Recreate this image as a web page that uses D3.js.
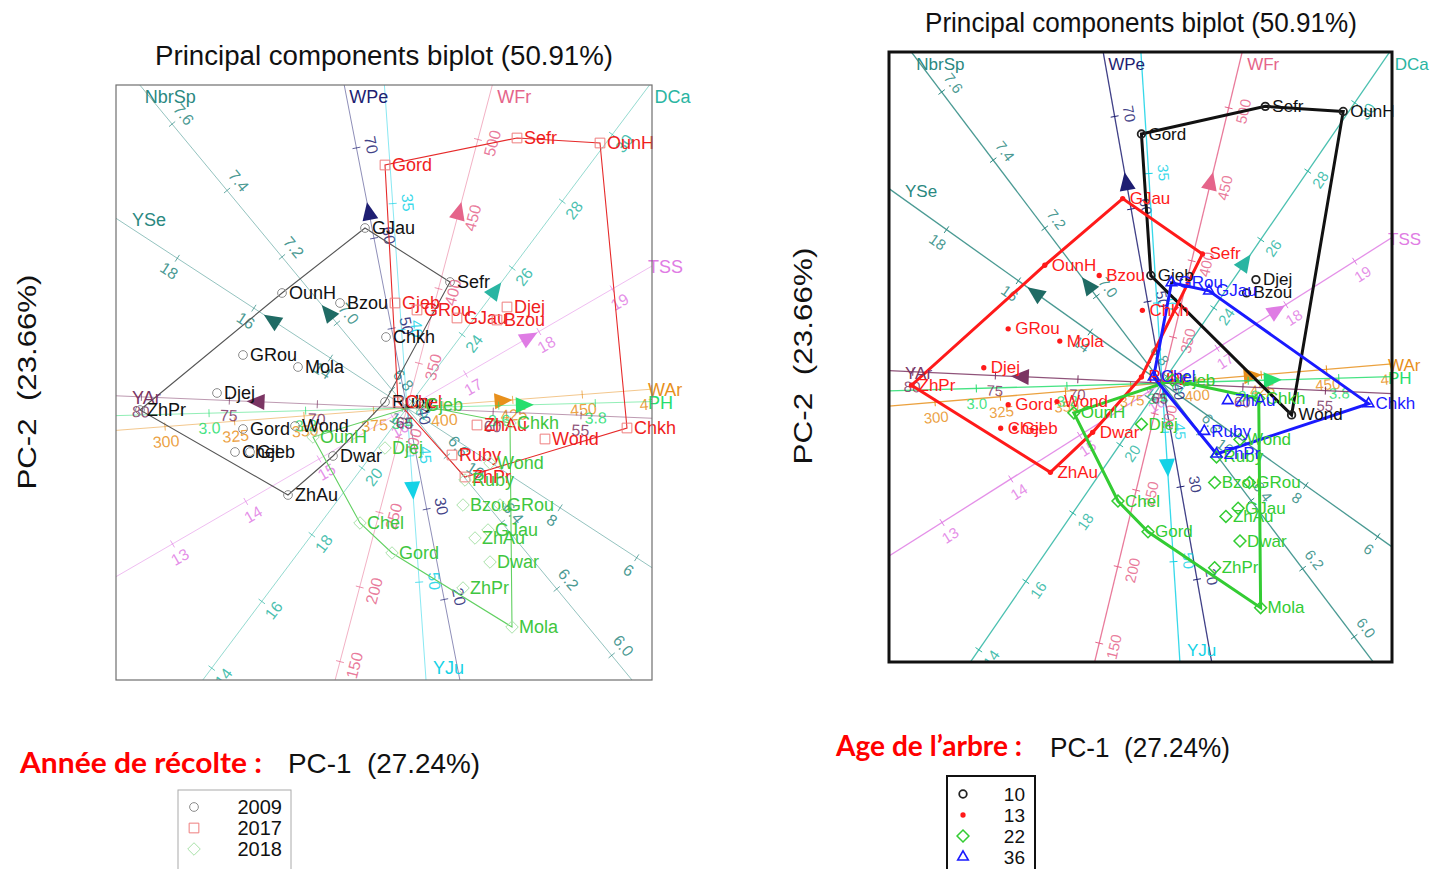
<!DOCTYPE html>
<html>
<head>
<meta charset="utf-8">
<script src="https://cdn.jsdelivr.net/npm/d3@7"></script>
<style>
  body { margin: 0; background: #fff; }
  svg { display: block; }
  text { font-family: "Liberation Sans", Arial, sans-serif; }
</style>
</head>
<body>
<svg id="chart" width="1439" height="869"></svg>
<script>
// ---------------- DATA ----------------
const pc1Limits = [-2.91, 2.45];
const pc2Limits = [-2.72, 3.23];

// biplot calibrated variable axes
const varNames  = ["NbrSp", "YSe", "WPe", "YJu", "WFr", "DCa", "TSS", "WAr", "PH", "YAr"];
const varAngle  = [129.6, 146.9, 101.0, -86.0, 75.2, 53.1, 30.1, 4.4, 1.5, 177.6];   // direction of increase (deg)
const varCentre = [6.745, 12.0, 41.2, 43.1, 320, 21.8, 16.2, 387, 3.41, 64.9];       // value at the origin
const varUnit   = [4.31, 0.457, 0.092, 0.253, 0.01543, 0.417, 0.847, 0.0279, 4.83, 0.176]; // PC length per unit
const varTicks  = [
  [7.6, 7.4, 7.2, 7.0, 6.8, 6.6, 6.4, 6.2, 6.0],
  [18, 16, 14, 12, 10, 8, 6],
  [70, 60, 50, 40, 30, 20],
  [35, 40, 45, 50],
  [500, 450, 400, 350, 300, 250, 200, 150],
  [30, 28, 26, 24, 22, 20, 18, 16, 14],
  [19, 18, 17, 16, 15, 14, 13],
  [300, 325, 350, 375, 400, 425, 450, 475],
  [3.0, 3.2, 3.4, 3.6, 3.8],
  [80, 75, 70, 65, 60, 55]
];
const varDigits = [1, 0, 0, 0, 0, 0, 0, 0, 1, 0];
const varMarker = [7.03, 15.5, 62.8, 46.3, 451, 25.3, 17.85, 421, 3.65, 73.4];

// samples
const sampleNames = [
  "GJau","OunH","Bzou","Chkh","Sefr","GRou","Mola","Djej","ZhPr","Gord","Wond","Chel","Gjeb","Dwar","ZhAu","Ruby",
  "Gord","Sefr","OunH","Gjeb","GRou","GJau","Bzou","Djej","ZhAu","Wond","Chkh","Ruby","ZhPr","Chel",
  "OunH","Gjeb","Chkh","Wond","Ruby","Djej","Bzou","GRou","GJau","ZhAu","Dwar","ZhPr","Mola","Gord","Chel"
];
const sampleYear = [
  2009,2009,2009,2009,2009,2009,2009,2009,2009,2009,2009,2009,2009,2009,2009,2009,
  2017,2017,2017,2017,2017,2017,2017,2017,2017,2017,2017,2017,2017,2017,
  2018,2018,2018,2018,2018,2018,2018,2018,2018,2018,2018,2018,2018,2018,2018
];
const sampleAge = [
  13,13,13,13,13,13,13,13,13,13,13,13,13,13,13,13,
  10,10,10,10,36,36,10,10,36,10,36,36,36,36,
  22,22,22,22,22,22,22,22,22,22,22,22,22,22,22
];
const samplePC1 = [
  -0.42,-1.25,-0.67,-0.21, 0.43,-1.64,-1.09,-1.90,-2.67,-1.64,-1.12,-1.72,-1.57,-0.74,-1.19,-0.22,
  -0.22, 1.10, 1.93,-0.12, 0.10, 0.50, 0.90, 1.00, 0.70, 1.38, 2.20, 0.45, 0.58,-0.09,
  -0.94, 0.11, 1.03, 0.83, 0.58,-0.22, 0.56, 0.93, 0.81, 0.68, 0.83, 0.56, 1.05,-0.15,-0.47
];
const samplePC2 = [
   1.80, 1.15, 1.05, 0.71, 1.26, 0.53, 0.41, 0.15,-0.02,-0.21,-0.18,-0.44,-0.44,-0.48,-0.87, 0.06,
   2.43, 2.70, 2.65, 1.05, 0.98, 0.90, 0.88, 1.01,-0.17,-0.31,-0.20,-0.47,-0.69, 0.06,
  -0.29, 0.03,-0.15,-0.55,-0.72,-0.40,-0.97,-0.97,-1.22,-1.30,-1.54,-1.80,-2.19,-1.45,-1.15
];

const yearLevels = [2009, 2017, 2018];
const ageLevels  = [10, 13, 22, 36];

const titleText = "Principal components biplot (50.91%)";
const pc1Text = "PC-1  (27.24%)";
const pc2Text = "PC-2  (23.66%)";

// ---------------- STYLES ----------------
const varColour = ["#2a8880", "#2a8880", "#1e1e72", "#14d2e6", "#e5648a", "#2ab5a2", "#df7ce4", "#e8901c", "#26de6e", "#7b3563"];
const varMarkColour = ["#1f6b64", "#1f6b64", "#1e1e72", "#14d2e6", "#e5648a", "#2ab5a2", "#df7ce4", "#e8901c", "#26de6e", "#7b3563"];

const S = (a, b) => a || b;
const symCircle = d3.symbolCircle;
const symSquare = S(d3.symbolSquare2, d3.symbolSquare);
const symDiamond = S(d3.symbolDiamond2, d3.symbolDiamond);
const symTriangle = S(d3.symbolTriangle2, d3.symbolTriangle);

const yearStyle = {
  2009: {sym: symCircle, size: 60, stroke: "#8c8c8c", fill: "none", sw: 1, hull: "#555555", text: "#111111"},
  2017: {sym: symSquare, size: 120, stroke: "#ee7d7d", fill: "none", sw: 1, hull: "#e62a2a", text: "#f01d1d"},
  2018: {sym: symDiamond, size: 100, stroke: "#a9e2a9", fill: "none", sw: 1, hull: "#62d062", text: "#40c640"}
};
const ageStyle = {
  10: {sym: symCircle, size: 45, stroke: "#222222", fill: "none", sw: 1.8, hull: "#111111", text: "#111111"},
  13: {sym: symCircle, size: 22, stroke: "none", fill: "#ff1a1a", sw: 0, hull: "#ff1a1a", text: "#ff1a1a"},
  22: {sym: symDiamond, size: 90, stroke: "#33cc33", fill: "none", sw: 1.5, hull: "#33cc33", text: "#33cc33"},
  36: {sym: symTriangle, size: 80, stroke: "#1a1aff", fill: "none", sw: 1.6, hull: "#1a1aff", text: "#1a1aff"}
};

const svg = d3.select("#chart");

const panels = [
  {id: "L", box: {x0: 116, y0: 85, x1: 652, y1: 680}, key: sampleYear, levels: yearLevels, style: yearStyle,
   lineOp: 0.5, lineW: 1, hullW: 1.1, ptFont: 18, tickFont: 16, nameFont: 18, border: "#6f6f6f", borderW: 1.2,
   title: {x: 384, y: 65, len: 458}, ylab: {x: 36, y: 382, len: 215},
   lab: {text: "Année de récolte :", x: 20, y: 773, len: 242}, xlab: {x: 288, y: 773, len: 192},
   legend: {x: 178, y: 790, w: 113, h: 90, stroke: "#aaaaaa", sw: 1, sx: 194, tx: 282, y0: 807, dy: 21, font: 20}},
  {id: "R", box: {x0: 889, y0: 52, x1: 1392, y1: 662}, key: sampleAge, levels: ageLevels, style: ageStyle,
   lineOp: 0.85, lineW: 1.3, hullW: 3, ptFont: 17, tickFont: 15, nameFont: 17, border: "#111111", borderW: 3,
   title: {x: 1141, y: 32, len: 432}, ylab: {x: 812, y: 356, len: 217},
   lab: {text: "Age de l’arbre :", x: 836, y: 756, len: 186}, xlab: {x: 1050, y: 757, len: 180},
   legend: {x: 947, y: 776, w: 88, h: 100, stroke: "#111111", sw: 2, sx: 963, tx: 1025, y0: 794, dy: 21, font: 19}}
];

function drawPanel(p) {
  const b = p.box;
  const x = d3.scaleLinear().domain(pc1Limits).range([b.x0, b.x1]);
  const y = d3.scaleLinear().domain(pc2Limits).range([b.y1, b.y0]);
  const g = svg.append("g");
  const clipId = "clip" + p.id;
  g.append("clipPath").attr("id", clipId).append("rect")
    .attr("x", b.x0).attr("y", b.y0).attr("width", b.x1 - b.x0).attr("height", b.y1 - b.y0);
  const inner = g.append("g").attr("clip-path", `url(#${clipId})`);
  const labelLayer = g.append("g");

  const ox = x(0), oy = y(0);

  varNames.forEach((name, i) => {
    const a = varAngle[i] * Math.PI / 180;
    const ca = Math.cos(a), sa = Math.sin(a);
    const pt = v => { const s = (v - varCentre[i]) * varUnit[i]; return [x(s * ca), y(s * sa)]; };
    let dx = x(ca) - ox, dy = y(sa) - oy;
    const dl = Math.hypot(dx, dy); dx /= dl; dy /= dl;
    const col = varColour[i];
    inner.append("line")
      .attr("x1", x(-12 * ca)).attr("y1", y(-12 * sa))
      .attr("x2", x(12 * ca)).attr("y2", y(12 * sa))
      .attr("stroke", col).attr("stroke-opacity", p.lineOp).attr("stroke-width", p.lineW);
    let ang = Math.atan2(dy, dx) * 180 / Math.PI;
    let rot = ang; if (rot > 90) rot -= 180; if (rot <= -90) rot += 180;
    const steep = Math.abs(rot) > 45;
    let nx = -dy, ny = dx;
    if (steep ? nx < 0 : ny < 0) { nx = -nx; ny = -ny; }
    varTicks[i].forEach(v => {
      const [tx, ty] = pt(v);
      inner.append("line")
        .attr("x1", tx - nx * 4).attr("y1", ty - ny * 4)
        .attr("x2", tx + nx * 4).attr("y2", ty + ny * 4)
        .attr("stroke", col).attr("stroke-opacity", Math.min(1, p.lineOp + 0.2)).attr("stroke-width", 1);
      const lx = tx + nx * 15, ly = ty + ny * 15;
      inner.append("text")
        .attr("x", lx).attr("y", ly)
        .attr("transform", `rotate(${rot},${lx},${ly})`)
        .attr("text-anchor", "middle").attr("dominant-baseline", "central")
        .attr("font-size", p.tickFont).attr("fill", col).attr("fill-opacity", 0.85)
        .text(d3.format(`.${varDigits[i]}f`)(v));
    });
    const [mx, my] = pt(varMarker[i]);
    inner.append("path")
      .attr("d", "M11,0 L-7,-8 L-7,8 Z")
      .attr("transform", `translate(${mx},${my}) rotate(${ang})`)
      .attr("fill", varMarkColour[i]);
    const cands = [];
    if (dx > 0) cands.push([(b.x1 - ox) / dx, "right"]);
    if (dx < 0) cands.push([(b.x0 - ox) / dx, "left"]);
    if (dy > 0) cands.push([(b.y1 - oy) / dy, "bottom"]);
    if (dy < 0) cands.push([(b.y0 - oy) / dy, "top"]);
    cands.sort((u, w) => u[0] - w[0]);
    const [t, edge] = cands[0];
    const ex = ox + dx * t, ey = oy + dy * t;
    let nxp, nyp;
    if (edge === "top") { nxp = ex + 5; nyp = b.y0 + 18; }
    else if (edge === "right") { nxp = b.x1 - 4; nyp = ey + 7; }
    else if (edge === "left") { nxp = b.x0 + 16; nyp = ey + 8; }
    else { nxp = ex + 7; nyp = b.y1 - 6; }
    labelLayer.append("text").attr("x", nxp).attr("y", nyp)
      .attr("font-size", p.nameFont).attr("fill", col).text(name);
  });

  p.levels.forEach(lv => {
    const st = p.style[lv];
    const pts = sampleNames.map((n, k) => k).filter(k => p.key[k] === lv)
      .map(k => [x(samplePC1[k]), y(samplePC2[k])]);
    const hull = d3.polygonHull(pts);
    if (hull) {
      inner.append("path").attr("d", "M" + hull.join("L") + "Z")
        .attr("fill", "none").attr("stroke", st.hull).attr("stroke-width", p.hullW)
        .attr("stroke-linejoin", "miter");
    }
  });

  p.levels.forEach(lv => {
    const st = p.style[lv];
    sampleNames.forEach((n, k) => {
      if (p.key[k] !== lv) return;
      const px = x(samplePC1[k]), py = y(samplePC2[k]);
      labelLayer.append("path").attr("d", d3.symbol(st.sym, st.size)())
        .attr("transform", `translate(${px},${py})`)
        .attr("fill", st.fill).attr("stroke", st.stroke).attr("stroke-width", st.sw);
      labelLayer.append("text").attr("x", px + 7).attr("y", py)
        .attr("dominant-baseline", "central")
        .attr("font-size", p.ptFont).attr("fill", st.text).text(n);
    });
  });

  g.append("rect").attr("x", b.x0).attr("y", b.y0)
    .attr("width", b.x1 - b.x0).attr("height", b.y1 - b.y0)
    .attr("fill", "none").attr("stroke", p.border).attr("stroke-width", p.borderW);

  svg.append("text").attr("x", p.title.x - p.title.len / 2).attr("y", p.title.y)
    .attr("font-size", 27).attr("fill", "#111")
    .attr("textLength", p.title.len).attr("lengthAdjust", "spacingAndGlyphs").text(titleText);
  svg.append("text").attr("transform", `translate(${p.ylab.x},${p.ylab.y + p.ylab.len / 2}) rotate(-90)`)
    .attr("font-size", 26).attr("fill", "#111").style("white-space", "pre")
    .attr("textLength", p.ylab.len).attr("lengthAdjust", "spacingAndGlyphs").text(pc2Text);
  svg.append("text").attr("x", p.lab.x).attr("y", p.lab.y)
    .style("font-family", "Lato, 'Open Sans', sans-serif").attr("font-weight", "bold")
    .attr("font-size", 28).attr("fill", "#ff0000")
    .attr("textLength", p.lab.len).attr("lengthAdjust", "spacingAndGlyphs").text(p.lab.text);
  svg.append("text").attr("x", p.xlab.x).attr("y", p.xlab.y)
    .attr("font-size", 28).attr("fill", "#111").style("white-space", "pre")
    .attr("textLength", p.xlab.len).attr("lengthAdjust", "spacingAndGlyphs").text(pc1Text);

  const L = p.legend;
  svg.append("rect").attr("x", L.x).attr("y", L.y).attr("width", L.w).attr("height", L.h)
    .attr("fill", "#fff").attr("stroke", L.stroke).attr("stroke-width", L.sw);
  p.levels.forEach((lv, j) => {
    const st = p.style[lv];
    const ly = L.y0 + j * L.dy;
    svg.append("path").attr("d", d3.symbol(st.sym, st.size)())
      .attr("transform", `translate(${L.sx},${ly})`)
      .attr("fill", st.fill).attr("stroke", st.stroke).attr("stroke-width", st.sw);
    svg.append("text").attr("x", L.tx).attr("y", ly).attr("dominant-baseline", "central")
      .attr("text-anchor", "end").attr("font-size", L.font).attr("fill", "#111").text(String(lv));
  });
}

panels.forEach(drawPanel);
</script>
</body>
</html>
